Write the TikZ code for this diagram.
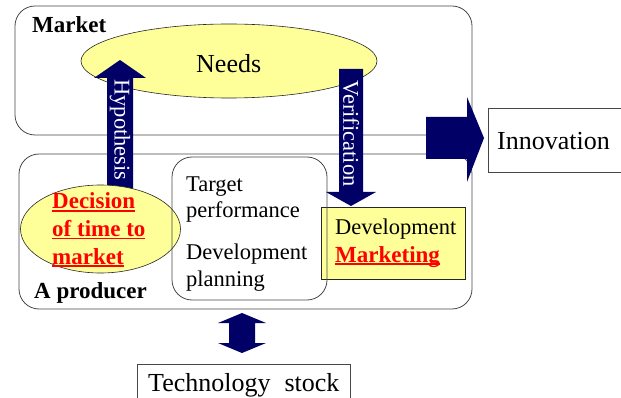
\documentclass[tikz,border=0pt]{standalone}
\usepackage{fontspec}
\setmainfont{Liberation Serif}
\definecolor{navy}{RGB}{0,0,102}
\definecolor{paleyellow}{RGB}{255,255,153}
\definecolor{edge}{RGB}{70,70,70}
% bold red text with a heavy underline
\newcommand\redline[1]{\setbox0=\hbox{#1}\rlap{\color{red}\rule[-3pt]{\wd0}{1.7pt}}\box0}
\tikzset{
  panel/.style={draw=edge, line width=0.8pt, rounded corners=20pt},
  plainbox/.style={draw=edge, line width=0.8pt},
  blob/.style={draw=black!85, fill=paleyellow, line width=0.6pt},
  blockarrow/.style={fill=navy, draw=none},
  txt/.style={inner sep=0pt, anchor=base west, font=\fontsize{22.5}{27}\selectfont},
  bigtxt/.style={inner sep=0pt, anchor=base west, font=\fontsize{26}{30}\selectfont},
  headline/.style={inner sep=0pt, anchor=base west, font=\bfseries\fontsize{23}{27}\selectfont},
  hot/.style={inner sep=0pt, anchor=base west, text=red, font=\bfseries\fontsize{23}{27}\selectfont},
  arrowtxt/.style={inner sep=0pt, text=white, rotate=-90, font=\fontsize{22.5}{27}\selectfont},
}
\begin{document}
\begin{tikzpicture}[x=1pt,y=-1pt]
\useasboundingbox (0,0) rectangle (621,398);

% the two large regions
\draw[panel] (15,6) rectangle (472,135);
\draw[panel] (19,154) rectangle (472,309);

% needs of the market
\draw[blob] (229,61) ellipse [x radius=148, y radius=37];
\node[bigtxt] (needs) at (196,73) {Needs};

% hypothesis arrow, rising from the producer into the market
\fill[blockarrow] (107,190) -- (107,78) -- (94,78) -- (120,60) -- (146,78)
  -- (133,78) -- (133,190) -- cycle;
\node[arrowtxt] (hyp) at (120,130) {Hypothesis};

% decision ellipse of the producer
\draw[blob] (100.5,229) ellipse [x radius=80, y radius=44];

% development / marketing box
\draw[blob] (321,207) rectangle (465,279);

% planning box
\draw[panel] (172,157) rectangle (327,300);

% verification arrow, from the market down to development
\fill[blockarrow] (339,69) -- (339,192) -- (326,192) -- (351,206) -- (376,192)
  -- (363,192) -- (363,69) -- cycle;
\node[arrowtxt] (ver) at (351,133.5) {Verification};

% innovation arrow and box
\fill[blockarrow] (426,117) -- (467,117) -- (467,97) -- (484,138) -- (467,182)
  -- (467,159) -- (426,159) -- cycle;
\draw[plainbox] (625,108) -- (488,108) -- (488,172) -- (625,172);
\node[bigtxt] (innov) at (497,150) {Innovation};

% technology stock with two-way arrow
\fill[blockarrow] (229,343) -- (229,323) -- (218,323) -- (242,313) -- (266,323)
  -- (255,323) -- (255,343) -- (266,343) -- (242,353) -- (218,343) -- cycle;
\draw[plainbox] (137,402) -- (137,364) -- (350,364) -- (350,402);
\node[bigtxt] (tech) at (148,391) {Technology\hskip 14pt stock};

% region titles
\node[headline] (market) at (32,33) {Market};
\node[headline] (producer) at (34,298) {A producer};

% decision text
\node[hot] (dec1) at (52,209) {\redline{Decision}};
\node[hot] (dec2) at (52,236.5) {\redline{of time to}};
\node[hot] (dec3) at (52,264) {\redline{market}};

% planning text
\node[txt] (plan1) at (186,192) {Target};
\node[txt] (plan2) at (186,218) {performance};
\node[txt] (plan3) at (186,259) {Development};
\node[txt] (plan4) at (186,286) {planning};

% development text
\node[txt] (dev1) at (335,235) {Development};
\node[hot] (dev2) at (335,262) {\redline{Marketing}};
\end{tikzpicture}
\end{document}
